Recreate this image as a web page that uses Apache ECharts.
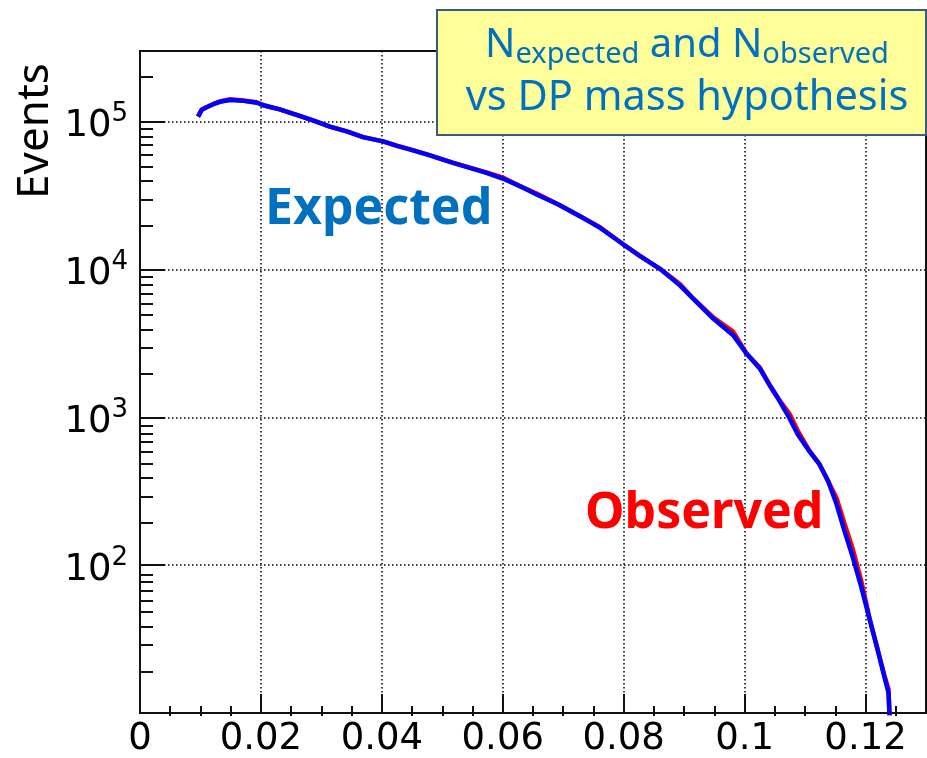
<!DOCTYPE html>
<html><head><meta charset="utf-8">
<script src="https://cdn.jsdelivr.net/npm/echarts@6/dist/echarts.min.js"></script>
<style>html,body{margin:0;padding:0;background:#fff}#c{width:927px;height:758px}</style>
</head><body><div id="c"></div>
<script>
// DP mass hypothesis (GeV) and event counts
const massValues = [0.0096,0.0102,0.0110,0.0121,0.0132,0.0149,0.0171,0.0193,0.0204,0.0231,0.0259,0.0286,0.0314,0.0342,0.0369,0.0402,0.0424,0.0452,0.0477,0.0518,0.0573,0.0601,0.0628,0.0656,0.0692,0.0727,0.0760,0.0799,0.0826,0.0860,0.0893,0.0915,0.0948,0.0981,0.1003,0.1025,0.1041,0.1055,0.1074,0.1088,0.1107,0.1124,0.1138,0.1152,0.1165,0.1179,0.1193,0.1207,0.1220,0.1231,0.1238,0.1240];
const expectedEvents = [108000,120000,125000,131000,136000,140000,138000,134000,129000,121000,111000,102000,92500,85700,78500,73400,68700,63900,59500,52500,45000,41000,36600,32100,27500,23000,19200,14800,12400,10100,7800,6340,4650,3590,2700,2140,1660,1350,990,764,590,480,371,259,171,113,71,42.6,26.7,17.7,13.7,9];
const observedEvents = [108000,120000,125000,131000,136500,141500,139000,135000,129000,121000,111000,102000,92500,85700,78500,73400,68700,63900,59500,52500,45300,41700,36600,32600,27500,23000,19400,14800,12400,10100,7950,6340,4750,3800,2700,2180,1660,1350,1060,810,595,480,371,285,192,128,78,43,27,18,14.5,9];
const xMajorTicks = [0,0.02,0.04,0.06,0.08,0.1,0.12];
const xMinorTicks = [0.005,0.01,0.015,0.025,0.03,0.035,0.045,0.05,0.055,0.065,0.07,0.075,0.085,0.09,0.095,0.105,0.11,0.115,0.125];
const yMajorTicks = [10,100,1000,10000,100000];
const yLabelTicks = [100,1000,10000,100000];
const yMinorTicks = [20,30,40,50,60,70,80,90,200,300,400,500,600,700,800,900,2000,3000,4000,5000,6000,7000,8000,9000,20000,30000,40000,50000,60000,70000,80000,90000,200000,300000];

const chart = echarts.init(document.getElementById('c'), null, {renderer:'canvas'});
const gridRect = {left:140, top:51, right:1, bottom:42};
const dotted = {color:'#000', width:1.5, type:[1.5,2.5]};
const labelFont = 'DejaVu Sans';

const option = {
  animation:false,
  backgroundColor:'#fff',
  grid:[
    Object.assign({show:true, borderColor:'#111', borderWidth:2, backgroundColor:'transparent'}, gridRect),
    Object.assign({show:false}, gridRect)
  ],
  xAxis:[
    {gridIndex:0, type:'value', min:0, max:0.13, interval:0.02,
     axisLine:{show:true, onZero:false, lineStyle:{color:'#111', width:2}},
     axisTick:{show:true, inside:true, length:19, customValues:xMajorTicks, lineStyle:{color:'#111', width:2}},
     axisLabel:{show:true, customValues:xMajorTicks, margin:8, color:'#000', fontFamily:labelFont, fontSize:37,
       formatter:v => (v===0 ? '0' : String(+(+v).toFixed(2)))},
     splitLine:{show:true, lineStyle:dotted}},
    {gridIndex:1, type:'value', min:0, max:0.13,
     axisLine:{show:false}, axisLabel:{show:false}, splitLine:{show:false},
     axisTick:{show:true, inside:true, length:10, customValues:xMinorTicks, lineStyle:{color:'#111', width:2}}}
  ],
  yAxis:[
    {gridIndex:0, type:'log', logBase:10, min:10, max:300000,
     axisLine:{show:true, onZero:false, lineStyle:{color:'#111', width:2}},
     axisTick:{show:true, inside:true, length:25, customValues:yMajorTicks, lineStyle:{color:'#111', width:2}},
     axisLabel:{show:true, customValues:yLabelTicks, margin:12, color:'#000',
       formatter:v => '{b|10}{s|' + Math.round(Math.log10(v)) + '}',
       rich:{
         b:{fontFamily:labelFont, fontSize:37, lineHeight:38, padding:[10,0,0,0], color:'#000'},
         s:{fontFamily:labelFont, fontSize:26, lineHeight:40, verticalAlign:'top', color:'#000'}
       }},
     splitLine:{show:true, lineStyle:dotted}},
    {gridIndex:1, type:'log', logBase:10, min:10, max:300000,
     axisLine:{show:false}, axisLabel:{show:false}, splitLine:{show:false},
     axisTick:{show:true, inside:true, length:13, customValues:yMinorTicks, lineStyle:{color:'#111', width:2}}}
  ],
  series:[
    {name:'Observed', type:'line', xAxisIndex:0, yAxisIndex:0, showSymbol:false, z:2,
     lineStyle:{color:'#ff0000', width:4.5}, itemStyle:{color:'#ff0000'},
     data: massValues.map((m,i)=>[m, observedEvents[i]])},
    {name:'Expected', type:'line', xAxisIndex:0, yAxisIndex:0, showSymbol:false, z:3,
     lineStyle:{color:'#0000ff', width:4.5}, itemStyle:{color:'#0000ff'},
     data: massValues.map((m,i)=>[m, expectedEvents[i]])}
  ],
  graphic:[
    {type:'rect', shape:{x:437, y:10, width:489, height:125}, style:{fill:'#ffff99', stroke:'#3b5a82', lineWidth:2}, z:10},
    {type:'text', x:687, y:46, z:11, style:{
      text:'{m|N}{s|expected}{m| and N}{s|observed}', align:'center', verticalAlign:'middle',
      rich:{
        m:{fontFamily:'Noto Sans', fontSize:40, lineHeight:46, fill:'#0070c0'},
        s:{fontFamily:'Noto Sans', fontSize:29, lineHeight:30, verticalAlign:'bottom', fill:'#0070c0'}
      }}},
    {type:'text', x:687, y:98, z:11, style:{text:'vs DP mass hypothesis', align:'center', verticalAlign:'middle',
      fontFamily:'Noto Sans', fontSize:41.5, fill:'#0070c0'}},
    {type:'text', x:265, y:210, z:11, style:{text:'Expected', align:'left', verticalAlign:'middle',
      fontFamily:'Noto Sans', fontWeight:'bold', fontSize:50, fill:'#0070c0'}},
    {type:'text', x:585, y:514, z:11, style:{text:'Observed', align:'left', verticalAlign:'middle',
      fontFamily:'Noto Sans', fontWeight:'bold', fontSize:50, fill:'#ff0000'}},
    {type:'text', x:35, y:131, rotation:Math.PI/2, z:11, style:{text:'Events', align:'center', verticalAlign:'middle',
      fontFamily:'Noto Sans', fontSize:44, fill:'#000'}}
  ]
};
chart.setOption(option);
</script></body></html>
